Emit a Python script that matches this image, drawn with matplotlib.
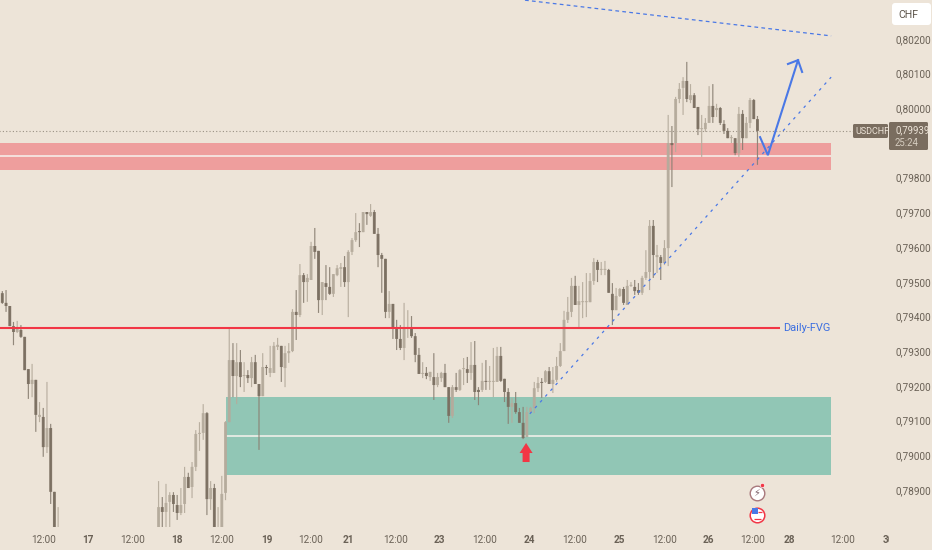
import numpy as np
import matplotlib
matplotlib.use("Agg")
import matplotlib.pyplot as plt
from matplotlib.patches import Rectangle, Polygon, FancyBboxPatch
from matplotlib.transforms import Bbox

# Hourly candle slots that are visible (the rest lie below the pane)
slots = list(range(1, 17)) + list(range(43, 205))

# USDCHF prices, in units of 0.00001
opens = [79467,79439,79430,79372,79355,79361,79341,79248,79205,79217,79110,79110,79023,79078,78894,78720,
78780,78850,78836,78865,78885,78856,78833,78859,78937,78908,78966,79061,79064,79121,78873,78905,78720,78780,78891,
79095,79274,79228,79268,79228,79231,79222,79268,79205,79170,79254,79237,79237,79312,79315,79251,79294,79300,79413,
79404,79519,79499,79505,79603,79589,79447,79496,79485,79465,79519,79537,79542,79499,79586,79620,79646,79643,79701,
79690,79701,79638,79577,79566,79413,79436,79369,79335,79309,79366,79369,79343,79289,79234,79237,79225,79225,79202,
79222,79237,79196,79113,79196,79188,79248,79248,79237,79260,79188,79188,79214,79211,79211,79211,79286,79220,79182,
79139,79150,79124,79093,79052,79124,79136,79193,79211,79211,79242,79205,79217,79257,79300,79390,79413,79488,79433,
79441,79441,79441,79502,79557,79534,79534,79534,79465,79418,79459,79479,79433,79488,79485,79476,79468,79511,79528,
79661,79571,79571,79554,79597,79900,79900,80027,80059,80079,80024,80038,80004,79940,79940,79958,80007,79995,80001,
79955,79935,79914,79914,79871,79984,79914,79958,80024,79969]
highs = [79473,79476,79430,79384,79387,79375,79341,79248,79263,79217,79153,79136,79211,79090,78894,78850,
78925,78879,78917,78893,78893,78885,78905,78966,78949,78980,79072,79095,79147,79124,78925,78917,78850,78940,79098,
79369,79323,79323,79303,79268,79245,79283,79289,79205,79294,79260,79315,79326,79338,79315,79315,79323,79421,79476,
79551,79525,79522,79615,79655,79589,79499,79548,79542,79522,79548,79554,79574,79591,79626,79698,79669,79701,79701,
79724,79707,79655,79583,79566,79473,79436,79390,79375,79439,79418,79401,79352,79309,79268,79254,79240,79294,79237,
79240,79263,79196,79202,79237,79248,79280,79283,79326,79329,79196,79266,79274,79257,79309,79312,79312,79220,79193,
79165,79182,79136,79139,79139,79139,79211,79225,79222,79245,79254,79254,79283,79323,79416,79456,79511,79517,79488,
79499,79525,79525,79568,79563,79557,79560,79537,79496,79482,79482,79485,79505,79499,79505,79496,79517,79591,79678,
79678,79606,79577,79620,79981,79949,80033,80073,80090,80134,80070,80044,80004,79981,79972,80064,80070,80013,80004,
79966,79943,79923,79914,80004,79995,79975,80030,80027,79978]
lows = [79436,79413,79372,79317,79352,79338,79245,79162,79167,79067,79095,78995,79006,78859,78760,78700,
78760,78760,78760,78760,78836,78813,78827,78833,78905,78876,78954,79012,79044,78827,78842,78760,78700,78760,78870,
79095,79167,79147,79196,79182,79208,79196,79205,79015,79170,79231,79225,79237,79303,79211,79196,79266,79297,79332,
79398,79439,79442,79505,79566,79410,79404,79447,79462,79456,79516,79485,79485,79398,79577,79615,79600,79643,79664,
79687,79638,79542,79468,79395,79395,79335,79303,79303,79274,79338,79338,79268,79234,79222,79219,79214,79159,79196,
79211,79196,79093,79107,79182,79185,79202,79208,79217,79159,79144,79182,79188,79188,79167,79211,79211,79153,79090,
79093,79119,79093,79046,79052,79121,79121,79182,79165,79208,79205,79179,79211,79254,79300,79381,79398,79433,79367,
79395,79398,79441,79491,79499,79519,79519,79468,79375,79418,79456,79433,79433,79485,79462,79462,79462,79505,79476,
79511,79525,79505,79548,79545,79773,79874,80015,79981,80018,80015,80001,79923,79860,79932,79958,79958,79975,79952,
79926,79914,79900,79865,79860,79880,79914,79943,79969,79837]
closes = [79439,79430,79372,79355,79364,79341,79245,79205,79217,79116,79116,79023,79078,78894,78780,78780,
78850,78836,78862,78885,78859,78833,78856,78937,78905,78966,79061,79064,79121,78873,78905,78780,78780,78888,79095,
79274,79228,79268,79225,79231,79222,79268,79205,79170,79254,79251,79251,79315,79318,79254,79294,79300,79413,79404,
79519,79499,79511,79603,79586,79447,79499,79485,79465,79522,79539,79542,79499,79586,79620,79643,79643,79701,79695,
79701,79638,79577,79566,79413,79436,79369,79335,79309,79369,79369,79343,79289,79234,79237,79228,79240,79202,79225,
79237,79196,79113,79196,79188,79245,79251,79237,79260,79182,79182,79214,79211,79214,79214,79286,79214,79182,79139,
79150,79124,79093,79049,79124,79136,79193,79208,79208,79242,79205,79217,79257,79300,79390,79413,79488,79433,79444,
79444,79444,79502,79557,79534,79537,79537,79468,79418,79459,79479,79439,79488,79491,79473,79468,79511,79528,79661,
79577,79577,79554,79597,79900,79894,80027,80056,80079,80027,80038,80001,79940,79943,79958,80007,79975,80001,79958,
79935,79914,79917,79871,79984,79914,79958,80024,79969,79935]

price_ticks = [0.78900,0.79000,0.79100,0.79200,0.79300,0.79400,0.79500,0.79600,0.79700,0.79800,0.80000,0.80100,0.80200]
time_tick_slots = [12,24,36.1,48,60,72.1,84,93.9,106.6,118.6,130.7,142.8,154.9,167,179.1,190.7,202.8,212.7,227,239.1]
time_tick_labels = ['12:00','17','12:00','18','12:00','19','12:00','21','12:00','23','12:00','24','12:00','25','12:00','26','12:00','28','12:00','30']

W, H = 932, 550
BG = '#ede4d8'
TXT = '#6a6156'
LIGHT = '#b5ab9c'
DARK = '#7a6e60'
BLUE = '#4a78e6'
FONT = 'Roboto'

o, h, l, c = [np.array(a) / 1e5 for a in (opens, highs, lows, closes)]
xs = np.array(slots, dtype=float)
up = c >= o

fig = plt.figure(figsize=(W/100, H/100), dpi=100, facecolor=BG)
PANE_W, PANE_B = 889, 527
ax = fig.add_axes([0, 1-PANE_B/H, PANE_W/W, PANE_B/H], facecolor=BG)
ax.set_xlim(0.376, 239.36)
ax.set_ylim(0.787926, 0.803125)
for s in ax.spines.values():
    s.set_visible(False)

# candles
w1 = ax.vlines(xs[up], l[up], h[up], color=LIGHT, lw=0.85, alpha=0.92, zorder=2)
w2 = ax.vlines(xs[~up], l[~up], h[~up], color='#8a8073', lw=0.85, alpha=0.92, zorder=2)
w1.set_snap(False)
w2.set_snap(False)
bottoms = np.minimum(o, c)
heights = np.maximum(np.abs(c-o), 0.00003)
b1 = ax.bar(xs[up], heights[up], 0.78, bottoms[up], color=LIGHT, lw=0, alpha=0.92, zorder=3)
b2 = ax.bar(xs[~up], heights[~up], 0.78, bottoms[~up], color=DARK, lw=0, alpha=0.92, zorder=3)
for p in list(b1) + list(b2):
    p.set_snap(False)

# zones
ZR = 223.8
ax.add_patch(Rectangle((0, 0.79822), ZR, 0.00078, fc='#f23645', alpha=0.4, lw=0, zorder=1))
ax.add_patch(Rectangle((61.1, 0.78942), ZR-61.1, 0.00225, fc='#089981', alpha=0.4, lw=0, zorder=1))
ax.hlines(0.79862, 0, ZR, color='#f7f3ee', lw=1.1, zorder=1.5)
ax.hlines(0.79055, 61.1, ZR, color='#f7f3ee', lw=1.1, zorder=1.5)

# levels and trend lines
ax.hlines(0.79367, 0, 210, color='#f23645', lw=1.5, zorder=5)
ax.text(217.3, 0.79367, 'Daily-FVG', color='#3d6fe0', fontsize=7.9, family=FONT,
        ha='center', va='center', zorder=6)
ax.hlines(0.79935, 0, 239.36, color='#9a9184', lw=0.8, linestyles=(0, (1, 2)), zorder=2)
ax.plot([141.5, 223.8], [0.80312, 0.80209], color=BLUE, lw=0.9, ls=(0, (3, 2.6)), zorder=6)
ax.plot([142.8, 223.8], [0.79119, 0.80090], color=BLUE, lw=0.9, ls=(0, (2.2, 4)), zorder=6)
ax.plot([204.7, 206.8, 214.9], [0.79917, 0.79865, 0.80139], color=BLUE, lw=1.5, zorder=7, solid_joinstyle='miter')
ax.plot([212.2, 214.9, 216.0], [0.80128, 0.80139, 0.80105], color=BLUE, lw=1.5, zorder=7, solid_joinstyle='miter')

# red marker arrow
ax.add_patch(Polygon([(141.8, 0.79035), (143.55, 0.79006), (142.74, 0.79006), (142.74, 0.78980),
                      (140.86, 0.78980), (140.86, 0.79006), (140.05, 0.79006)],
                     closed=True, fc='#f23645', lw=0, zorder=7))

# event icons
ax.plot(203.9, 0.78891, 'o', ms=10.5, mfc='white', mec='#a8787c', mew=1.0, zorder=7)
ax.text(203.9, 0.78891, '\u26a1', fontsize=7, color='#7a5f68', family='DejaVu Sans', ha='center', va='center', zorder=8)
ax.plot(205.3, 0.78915, 'o', ms=3, mfc='#f23645', mec='white', mew=0.4, zorder=8)
ax.plot(203.9, 0.78827, 'o', ms=10.5, mfc='white', mec='#f23645', mew=1.1, zorder=7)
ax.plot(203.4, 0.78838, 's', ms=4, mfc='#4a78e6', mew=0, zorder=8)
ax.hlines([0.78835, 0.78815], [204.2, 203.0], [205.2, 204.9], color='#f23645', lw=0.9, zorder=8)

# axes ticks
ax.yaxis.tick_right()
ax.set_yticks(price_ticks)
ax.set_yticklabels([f'{t:.5f}'.replace('.', ',') for t in price_ticks], fontsize=7.2, color=TXT, family=FONT)
ax.tick_params(axis='y', length=0, pad=4.8)
ax.set_xticks(time_tick_slots)
ax.set_xticklabels(time_tick_labels, fontsize=7.2, color=TXT, family=FONT)
ax.tick_params(axis='x', length=0, pad=5.5)
for lab, txt in zip(ax.get_xticklabels(), time_tick_labels):
    if ':' not in txt:
        lab.set_fontweight('bold')
    lab.set_clip_box(Bbox([[0, 0], [PANE_W, H]]))
    lab.set_clip_on(True)

# price tags and currency box (interface furniture, placed in pixels)
def fx(x): return x / W
def fy(y): return 1 - y / H
def box(x0, y0, x1, y1, color, rad=1.5):
    fig.add_artist(FancyBboxPatch((x0, H-y1), x1-x0, y1-y0, boxstyle=f'round,pad=0,rounding_size={rad}',
                                  fc=color, ec='none', transform=None, zorder=10))
def label(x, y, s, color, ha='left', size=6.9):
    fig.text(fx(x), fy(y), s, color=color, fontsize=size, family=FONT, ha=ha, va='center', zorder=11)

box(853, 124, 888, 138, '#7a6d5f')
box(889, 122, 928, 150, '#7a6d5f')
label(855.5, 131.5, 'USDCHF', BG, size=6.5)
label(895, 130.5, '0,79939', BG)
label(895, 143, '25:24', '#d6cdc0')
box(892, 3, 931, 25, 'white', rad=3)
label(898, 14.5, 'CHF', '#5d554b', size=7.6)

fig.savefig('out.png', dpi=100, facecolor=BG)
